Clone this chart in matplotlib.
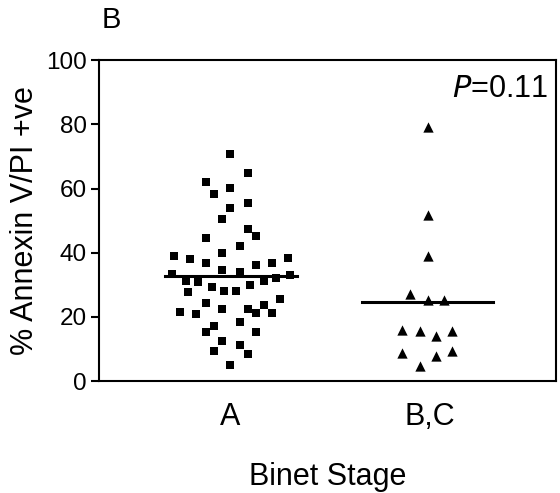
import matplotlib
matplotlib.use('Agg')
import matplotlib.pyplot as plt
import numpy as np

plt.rcParams['font.family'] = ['Liberation Sans', 'DejaVu Sans']

# Binet stage A - % Annexin V/PI +ve (value, horizontal jitter)
stage_a = [70.7, 64.7, 62.1, 60.2, 58.3, 55.4, 54.0, 50.5, 47.3, 45.2,
           44.5, 42.1, 40.0, 38.9, 38.0, 38.2, 36.9, 36.2, 36.7, 34.6,
           34.0, 33.3, 33.2, 31.1, 30.9, 32.2, 31.1, 29.4, 29.8, 28.0,
           28.0, 27.8, 25.5, 24.2, 23.7, 22.6, 22.6, 21.4, 20.8, 21.3,
           21.3, 18.4, 17.1, 15.3, 15.2, 12.6, 11.4, 9.4, 8.3, 5.0]
stage_a_jit = [0.0, 0.09, -0.12, 0.0, -0.08, 0.09, 0.0, -0.04, 0.09, 0.13,
               -0.12, 0.05, -0.04, -0.28, -0.2, 0.29, 0.21, 0.13, -0.12, -0.04,
               0.05, -0.29, 0.3, -0.22, -0.16, 0.23, 0.17, -0.09, 0.1, -0.03,
               0.03, -0.21, 0.25, -0.12, 0.17, 0.09, -0.04, -0.25, -0.17, 0.13,
               0.21, 0.05, -0.08, -0.12, 0.13, -0.04, 0.05, -0.08, 0.09, 0.0]

# Binet stage B,C
stage_bc = [79.2, 51.7, 38.9, 27.1, 25.4, 25.4, 15.9, 15.6, 14.0, 15.6,
            8.6, 7.8, 9.4, 4.7]
stage_bc_jit = [-0.01, -0.01, -0.01, -0.1, -0.01, 0.07, -0.14, -0.05, 0.03, 0.11,
                -0.14, 0.03, 0.11, -0.05]

mean_a = 32.7
mean_bc = 24.5
categories = ['A', 'B,C']

fig = plt.figure(figsize=(5.6, 4.93), dpi=100)
ax = fig.add_axes([0.177, 0.227, 0.816, 0.651])

ax.scatter(1 + np.array(stage_a_jit), stage_a, marker='s', s=40, c='black',
           linewidths=0, zorder=3)
ax.scatter(2 + np.array(stage_bc_jit), stage_bc, marker='^', s=55, c='black',
           linewidths=0, zorder=3)

# mean lines
ax.plot([0.675, 1.335], [mean_a, mean_a], color='black', lw=2.2, zorder=4)
ax.plot([1.66, 2.315], [mean_bc, mean_bc], color='black', lw=2.2, zorder=4)

ax.set_xlim(0.345, 2.63)
ax.set_ylim(0, 100)
ax.set_yticks([0, 20, 40, 60, 80, 100])
ax.set_xticks([1, 2])
ax.set_xticklabels(categories)

for sp in ax.spines.values():
    sp.set_linewidth(1.5)

ax.tick_params(axis='y', labelsize=17.5, width=1.5, length=6, pad=3)
ax.tick_params(axis='x', labelsize=22, length=0, pad=15)

ax.set_ylabel('% Annexin V/PI +ve', fontsize=22, labelpad=4)
ax.set_xlabel('Binet Stage', fontsize=22, labelpad=22)

ax.text(2.59, 91, r'$\it{P}$=0.11', fontsize=22, ha='right', va='center')
fig.text(0.182, 0.959, 'B', fontsize=21, ha='left', va='center')

fig.savefig('out.png', dpi=100)
